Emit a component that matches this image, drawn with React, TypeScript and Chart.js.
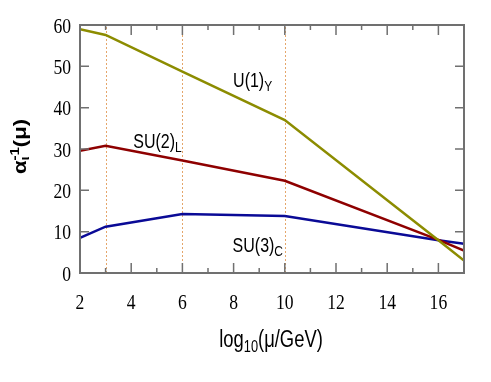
import React, { useEffect, useRef } from "react";
import { Chart, registerables } from "chart.js";

Chart.register(...registerables);

const xValues = [2, 3, 6, 10, 16, 17];
const u1Values = [59, 57.6, 48.7, 37, 7.9, 3];
const su2Values = [29.6, 30.8, 27.2, 22.3, 8, 5.4];
const su3Values = [8.5, 11.2, 14.3, 13.8, 7.9, 7.1];
const xMajorTicks = [2, 4, 6, 8, 10, 12, 14, 16];
const xMinorTicks = [3, 5, 7, 9, 11, 13, 15, 17];
const yTicks = [0, 10, 20, 30, 40, 50, 60];
const thresholds = [3, 6, 10];

type Seg = { t: string; size: number; dy?: number; bold?: boolean; family?: string; stack?: boolean };

const SANS = "'Liberation Sans', Arial, sans-serif";
const SERIF = "'Liberation Serif', 'Times New Roman', serif";
const SX = 0.8;

function fontOf(s: Seg) {
  return `${s.bold ? "bold " : ""}${s.size}px ${s.family || SANS}`;
}

function richWidth(ctx: CanvasRenderingContext2D, segs: Seg[]) {
  let w = 0;
  let pending = 0;
  for (const s of segs) {
    ctx.font = fontOf(s);
    const m = ctx.measureText(s.t).width;
    if (s.stack) {
      pending = Math.max(pending, m);
    } else {
      w += Math.max(pending, m);
      pending = 0;
    }
  }
  return w + pending;
}

function drawRich(
  ctx: CanvasRenderingContext2D,
  x: number,
  y: number,
  segs: Seg[],
  align: "left" | "center" | "right",
  rotate = false
) {
  ctx.save();
  ctx.translate(x, y);
  if (rotate) {
    ctx.rotate(-Math.PI / 2);
    ctx.scale(1, SX);
  } else {
    ctx.scale(SX, 1);
  }
  const total = richWidth(ctx, segs);
  let cx = align === "left" ? 0 : align === "center" ? -total / 2 : -total;
  let pending = 0;
  ctx.textAlign = "left";
  ctx.textBaseline = "alphabetic";
  ctx.fillStyle = "#000";
  for (const s of segs) {
    ctx.font = fontOf(s);
    ctx.fillText(s.t, cx, s.dy || 0);
    const m = ctx.measureText(s.t).width;
    if (s.stack) {
      pending = Math.max(pending, m);
    } else {
      cx += Math.max(pending, m);
      pending = 0;
    }
  }
  ctx.restore();
}

const decorPlugin = {
  id: "decor",
  beforeDatasetsDraw(chart: any) {
    const { ctx, chartArea: a, scales } = chart;
    const xs = scales.x;
    ctx.save();
    ctx.strokeStyle = "rgba(225,150,80,0.85)";
    ctx.lineWidth = 1;
    ctx.setLineDash([2, 2]);
    for (const t of thresholds) {
      const px = Math.round(xs.getPixelForValue(t)) + 0.5;
      ctx.beginPath();
      ctx.moveTo(px, a.bottom);
      ctx.lineTo(px, a.top);
      ctx.stroke();
    }
    ctx.restore();
  },
  afterDatasetsDraw(chart: any) {
    const { ctx, chartArea: a, scales } = chart;
    const xs = scales.x;
    const ys = scales.y;
    ctx.save();
    ctx.strokeStyle = "#707070";
    ctx.lineWidth = 1.5;
    ctx.beginPath();
    for (const t of xMajorTicks) {
      const px = xs.getPixelForValue(t);
      ctx.moveTo(px, a.bottom);
      ctx.lineTo(px, a.bottom - 10);
      ctx.moveTo(px, a.top);
      ctx.lineTo(px, a.top + 10);
    }
    for (const t of xMinorTicks) {
      const px = xs.getPixelForValue(t);
      ctx.moveTo(px, a.bottom);
      ctx.lineTo(px, a.bottom - 5);
      ctx.moveTo(px, a.top);
      ctx.lineTo(px, a.top + 5);
    }
    for (const t of yTicks) {
      const py = ys.getPixelForValue(t);
      ctx.moveTo(a.left, py);
      ctx.lineTo(a.left + 9, py);
      ctx.moveTo(a.right, py);
      ctx.lineTo(a.right - 9, py);
    }
    ctx.stroke();
    ctx.lineWidth = 2;
    ctx.strokeRect(a.left, a.top, a.right - a.left, a.bottom - a.top);
    ctx.restore();

    for (const t of yTicks) {
      drawRich(ctx, a.left - 9, ys.getPixelForValue(t) + 7.5, [{ t: String(t), size: 22, family: SERIF }], "right");
    }
    for (const t of xMajorTicks) {
      drawRich(ctx, xs.getPixelForValue(t), a.bottom + 35.5, [{ t: String(t), size: 22, family: SERIF }], "center");
    }

    drawRich(ctx, xs.getPixelForValue(7.98), ys.getPixelForValue(45.1), [
      { t: "U(1)", size: 20 },
      { t: "Y", size: 15, dy: 4 },
    ], "left");
    drawRich(ctx, xs.getPixelForValue(4.08), ys.getPixelForValue(30.3), [
      { t: "SU(2)", size: 20 },
      { t: "L", size: 15, dy: 4 },
    ], "left");
    drawRich(ctx, xs.getPixelForValue(7.96), ys.getPixelForValue(5.1), [
      { t: "SU(3)", size: 20 },
      { t: "C", size: 15, dy: 4 },
    ], "left");

    drawRich(ctx, (a.left + a.right) / 2 - 1, a.bottom + 74, [
      { t: "log", size: 23 },
      { t: "10", size: 16, dy: 5 },
      { t: "(μ/GeV)", size: 23 },
    ], "center");
    drawRich(ctx, 26, 174, [
      { t: "α", size: 22, bold: true },
      { t: "ι", size: 15, bold: true, dy: 4, stack: true },
      { t: "-1", size: 15, bold: true, dy: -9 },
      { t: "(μ)", size: 22, bold: true },
    ], "left", true);
  },
};

function makeData(ys: number[]) {
  return xValues.map((x, i) => ({ x, y: ys[i] }));
}

export default function App() {
  const ref = useRef<HTMLCanvasElement | null>(null);
  useEffect(() => {
    if (!ref.current) return;
    const chart = new Chart(ref.current, {
      type: "line",
      data: {
        datasets: [
          { label: "U(1)Y", data: makeData(u1Values), borderColor: "#8c8c00", borderWidth: 2.5, pointRadius: 0, tension: 0 },
          { label: "SU(2)L", data: makeData(su2Values), borderColor: "#8e0000", borderWidth: 2.5, pointRadius: 0, tension: 0 },
          { label: "SU(3)C", data: makeData(su3Values), borderColor: "#0a0a96", borderWidth: 2.5, pointRadius: 0, tension: 0 },
        ],
      },
      options: {
        animation: false,
        responsive: false,
        events: [],
        layout: { padding: { left: 80, right: 27, top: 25, bottom: 109 } },
        plugins: { legend: { display: false }, tooltip: { enabled: false } },
        scales: {
          x: { type: "linear", min: 2, max: 17, display: false },
          y: { type: "linear", min: 0, max: 60, display: false },
        },
      },
      plugins: [decorPlugin],
    });
    return () => chart.destroy();
  }, []);
  return (
    <div style={{ position: "fixed", left: 0, top: 0, width: 491, height: 382, background: "#fff" }}>
      <canvas ref={ref} width={491} height={382} style={{ display: "block" }} />
    </div>
  );
}
